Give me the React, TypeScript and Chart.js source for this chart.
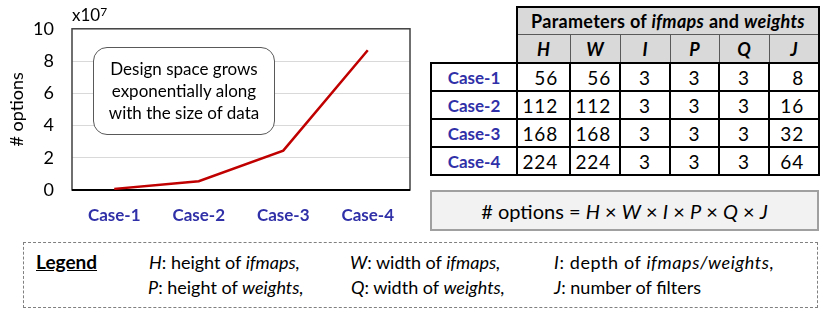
import React, { useEffect, useRef } from "react";
import { Chart, registerables } from "chart.js";

Chart.register(...registerables);

// ---- data ----
const categories = ["Case-1", "Case-2", "Case-3", "Case-4"];
const optionsE7 = [0.07, 0.54, 2.44, 8.67]; // # options in units of 10^7
const yMin = 0;
const yMax = 10;
const yStep = 2;

const tableColumns = ["H", "W", "I", "P", "Q", "J"];
const hValues = [56, 112, 168, 224];
const wValues = [56, 112, 168, 224];
const iValues = [3, 3, 3, 3];
const pValues = [3, 3, 3, 3];
const qValues = [3, 3, 3, 3];
const jValues = [8, 16, 32, 64];

const FONT = "Lato, 'Open Sans', sans-serif";
const CASE_COLOR = "#3030a8";
const LINE_COLOR = "#c00000";

const framePlugin = {
  id: "frame",
  beforeDatasetsDraw(chart: any) {
    const { ctx, chartArea } = chart;
    const { left, top, right, bottom } = chartArea;
    ctx.save();
    ctx.strokeStyle = "#404040";
    ctx.lineWidth = 1.5;
    ctx.strokeRect(left, top, right - left, bottom - top);
    ctx.strokeStyle = "#000";
    ctx.lineWidth = 2;
    ctx.beginPath();
    ctx.moveTo(left, bottom);
    ctx.lineTo(right, bottom);
    ctx.stroke();
    ctx.restore();
  },
};

function LineChart() {
  const ref = useRef<HTMLCanvasElement | null>(null);
  useEffect(() => {
    if (!ref.current) return;
    const chart = new Chart(ref.current, {
      type: "line",
      data: {
        labels: categories,
        datasets: [
          {
            data: optionsE7,
            borderColor: LINE_COLOR,
            borderWidth: 2.5,
            pointRadius: 0,
            tension: 0,
            fill: false,
          },
        ],
      },
      options: {
        animation: false,
        responsive: false,
        layout: { padding: { left: 0, top: 28, right: 10, bottom: 0 } },
        plugins: { legend: { display: false }, tooltip: { enabled: false } },
        scales: {
          x: {
            offset: true,
            grid: { display: false, drawTicks: false },
            border: { display: false },
            ticks: {
              color: CASE_COLOR,
              font: { family: FONT, size: 17, weight: "bold" },
              padding: 15,
            },
            afterFit: (s: any) => {
              s.height = 45;
            },
          },
          y: {
            min: yMin,
            max: yMax,
            grid: { color: "#d9d9d9", lineWidth: 1, drawTicks: false },
            border: { display: false },
            ticks: {
              stepSize: yStep,
              color: "#000",
              font: { family: FONT, size: 18 },
              padding: 18,
            },
            title: {
              display: true,
              text: "# options",
              color: "#000",
              font: { family: FONT, size: 18 },
              padding: { top: 6, bottom: 0 },
            },
            afterFit: (s: any) => {
              s.width = 72;
            },
          },
        },
      },
      plugins: [framePlugin],
    } as any);
    return () => chart.destroy();
  }, []);
  return (
    <canvas
      ref={ref}
      width={420}
      height={235}
      style={{ position: "absolute", left: 0, top: 0, width: 420, height: 235 }}
    />
  );
}

const colX = [431, 517, 570, 620, 670, 719, 769, 819];
const rowY = [7, 34, 63, 91, 119, 147, 175];

function hLine(key: string, x1: number, x2: number, y: number, w: number, c: string) {
  return (
    <div
      key={key}
      style={{ position: "absolute", left: x1 - w / 2, top: y - w / 2, width: x2 - x1 + w, height: w, background: c }}
    />
  );
}
function vLine(key: string, x: number, y1: number, y2: number, w: number, c: string) {
  return (
    <div
      key={key}
      style={{ position: "absolute", left: x - w / 2, top: y1 - w / 2, width: w, height: y2 - y1 + w, background: c }}
    />
  );
}

function ParamTable() {
  const cols = [hValues, wValues, iValues, pValues, qValues, jValues];
  const align = ["right", "right", "center", "center", "center", "right"];
  const padR = [12, 9, 0, 0, 0, 15];
  const els: any[] = [];
  els.push(
    <div
      key="hbg"
      style={{
        position: "absolute",
        left: colX[1],
        top: rowY[0],
        width: colX[7] - colX[1],
        height: rowY[2] - rowY[0],
        background: "#d9d9d9",
      }}
    />
  );
  els.push(
    <div
      key="htitle"
      style={{
        position: "absolute",
        left: colX[1],
        top: rowY[0],
        width: colX[7] - colX[1],
        height: rowY[1] - rowY[0],
        display: "flex",
        alignItems: "center",
        justifyContent: "center",
        fontWeight: "bold",
        fontSize: 18,
        letterSpacing: 0.3,
        whiteSpace: "pre",
      }}
    >
      Parameters of <i>ifmaps</i> and <i>weights</i>
    </div>
  );
  tableColumns.forEach((c, ci) => {
    els.push(
      <div
        key={"hc" + ci}
        style={{
          position: "absolute",
          left: colX[ci + 1],
          top: rowY[1],
          width: colX[ci + 2] - colX[ci + 1],
          height: rowY[2] - rowY[1],
          display: "flex",
          alignItems: "center",
          justifyContent: "center",
          fontWeight: "bold",
          fontStyle: "italic",
          fontSize: 18,
        }}
      >
        {c}
      </div>
    );
  });
  categories.forEach((cat, ri) => {
    const top = rowY[ri + 2];
    const h = rowY[ri + 3] - top;
    els.push(
      <div
        key={"rl" + ri}
        style={{
          position: "absolute",
          left: colX[0],
          top,
          width: colX[1] - colX[0],
          height: h,
          display: "flex",
          alignItems: "center",
          justifyContent: "center",
          fontWeight: "bold",
          fontSize: 17,
          color: CASE_COLOR,
        }}
      >
        {cat}
      </div>
    );
    cols.forEach((vals, ci) => {
      els.push(
        <div
          key={"c" + ri + "_" + ci}
          style={{
            position: "absolute",
            left: colX[ci + 1],
            top,
            width: colX[ci + 2] - colX[ci + 1],
            height: h,
            display: "flex",
            alignItems: "center",
            justifyContent: align[ci] === "right" ? "flex-end" : "center",
            paddingRight: padR[ci],
            boxSizing: "border-box",
            fontSize: 19,
            letterSpacing: 0.8,
          }}
        >
          {vals[ri]}
        </div>
      );
    });
  });
  els.push(hLine("l0", colX[1], colX[7], rowY[0], 2, "#000"));
  els.push(hLine("l1", colX[1], colX[7], rowY[1], 1, "#595959"));
  for (let r = 2; r < rowY.length; r++) els.push(hLine("lr" + r, colX[0], colX[7], rowY[r], 2, "#000"));
  els.push(vLine("v0", colX[0], rowY[2], rowY[6], 2, "#000"));
  els.push(vLine("v1", colX[1], rowY[0], rowY[6], 2, "#000"));
  els.push(vLine("v7", colX[7], rowY[0], rowY[6], 2, "#000"));
  for (let c = 2; c < 7; c++) {
    els.push(vLine("vh" + c, colX[c], rowY[1], rowY[2], 1, "#595959"));
    els.push(vLine("vd" + c, colX[c], rowY[2], rowY[6], 2, "#000"));
  }
  return <>{els}</>;
}

const abs = (left: number, centerY: number): React.CSSProperties => ({
  position: "absolute",
  left,
  top: centerY - 12,
  lineHeight: "24px",
  fontSize: 18,
  whiteSpace: "pre",
});

export default function App() {
  return (
    <div
      style={{
        position: "absolute",
        left: 0,
        top: 0,
        width: 831,
        height: 317,
        background: "#fff",
        fontFamily: FONT,
        color: "#000",
        overflow: "hidden",
      }}
    >
      <LineChart />
      <div style={{ position: "absolute", left: 72, top: 5, fontSize: 17, lineHeight: "20px" }}>
        x10<sup style={{ fontSize: 12, verticalAlign: "top", position: "relative", top: -3 }}>7</sup>
      </div>
      <div
        style={{
          position: "absolute",
          left: 93,
          top: 47,
          width: 182,
          height: 88,
          boxSizing: "border-box",
          border: "1.5px solid #595959",
          borderRadius: 14,
          background: "#fff",
          display: "flex",
          alignItems: "center",
          justifyContent: "center",
          textAlign: "center",
          fontSize: 17,
          lineHeight: "22px",
          whiteSpace: "pre",
        }}
      >
        <div>
          Design space grows
          <br />
          exponentially along
          <br />
          with the size of data
        </div>
      </div>
      <ParamTable />
      <div
        style={{
          position: "absolute",
          left: 430,
          top: 190,
          width: 389,
          height: 41,
          boxSizing: "border-box",
          border: "2px solid #a0a0a0",
          background: "#f2f2f2",
          display: "flex",
          alignItems: "center",
          justifyContent: "center",
          fontSize: 20,
          whiteSpace: "pre",
        }}
      >
        # options = <i>H</i> × <i>W</i> × <i>I</i> × <i>P</i> × <i>Q</i> × <i>J</i>
      </div>
      <div
        style={{
          position: "absolute",
          left: 23,
          top: 242,
          width: 795,
          height: 66,
          boxSizing: "border-box",
          border: "1.5px dashed #808080",
        }}
      />
      <div style={{ ...abs(36, 262), fontSize: 19, fontWeight: "bold", textDecoration: "underline" }}>Legend</div>
      <div style={abs(149, 262)}>
        <i>H</i>: height of <i>ifmaps,</i>
      </div>
      <div style={abs(350, 262)}>
        <i>W</i>: width of <i>ifmaps,</i>
      </div>
      <div style={{ ...abs(554, 262), letterSpacing: 0.6 }}>
        <i>I</i>: depth of <i>ifmaps/weights,</i>
      </div>
      <div style={abs(148, 287)}>
        <i>P</i>: height of <i>weights,</i>
      </div>
      <div style={abs(351, 287)}>
        <i>Q</i>: width of <i>weights,</i>
      </div>
      <div style={abs(554, 287)}>
        <i>J</i>: number of filters
      </div>
    </div>
  );
}
